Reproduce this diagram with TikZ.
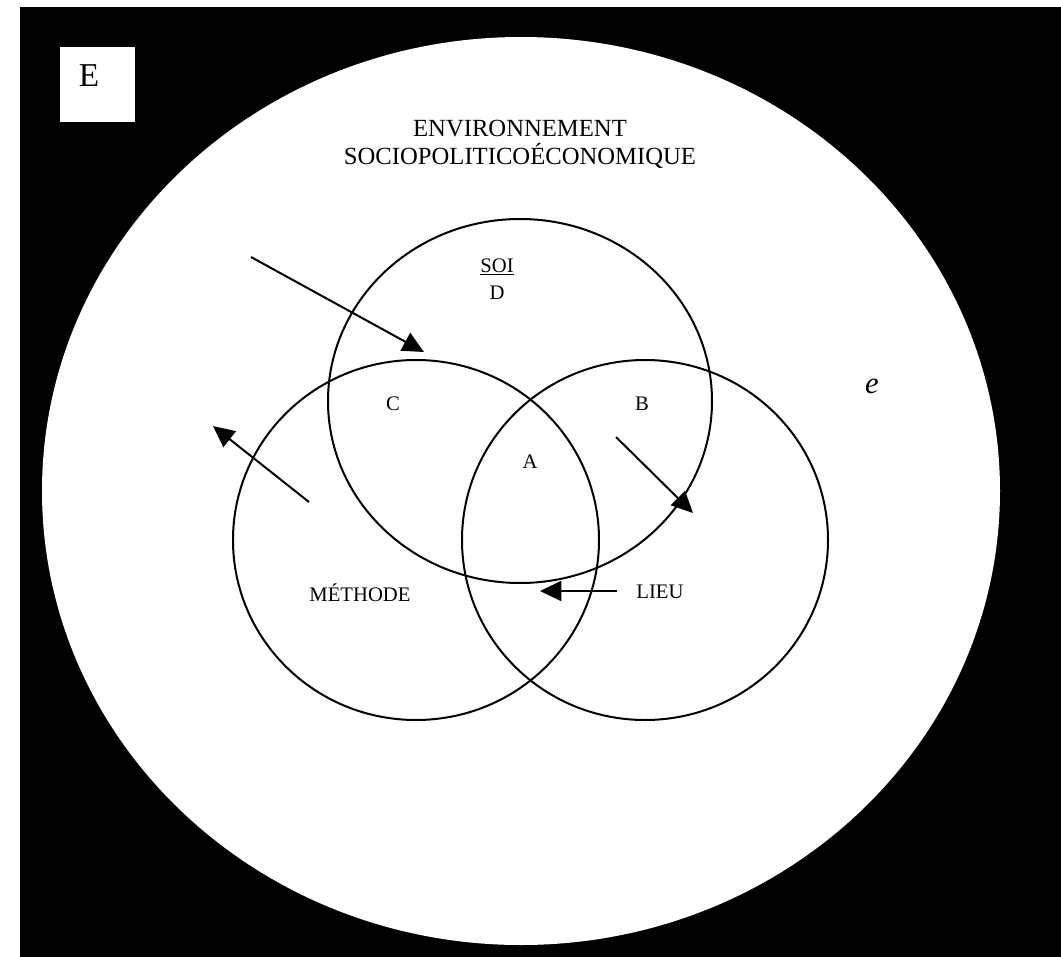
\documentclass[tikz,border=0pt]{standalone}
\usepackage{fontspec}
\setmainfont{Liberation Serif}
\usetikzlibrary{arrows.meta}
\begin{document}
\begin{tikzpicture}[x=0.75pt,y=-0.75pt,
  ring/.style={draw=black,line width=1.5pt},
  lbl/.style={font=\fontsize{15.5}{18}\selectfont,inner sep=0pt},
  big/.style={font=\fontsize{18.5}{22}\selectfont,inner sep=0pt},
  arr/.style={line width=1.5pt,-{Triangle[length=16pt,width=15pt]}}]
\useasboundingbox (0,0) rectangle (1061,957);
\fill[white] (0,0) rectangle (1061,957);
\fill[black] (20,7) rectangle (1061,957);
\fill[white] (521,491) ellipse [x radius=479, y radius=454];
\fill[white] (60,47) rectangle (135,122);
\node[inner sep=0pt,font=\fontsize{25}{30}\selectfont] (E) at (89,76) {E};
\node[big] (env1) at (520,129) {ENVIRONNEMENT};
\node[big] (env2) at (520,156) {SOCIOPOLITICOÉCONOMIQUE};
\node[inner sep=0pt,font=\fontsize{23}{28}\selectfont\itshape] (e) at (872,386) {e};
\draw[ring] (520,401) ellipse [x radius=192, y radius=182];
\draw[ring] (416,540) ellipse [x radius=183, y radius=180];
\draw[ring] (645,540) ellipse [x radius=183, y radius=180];
\node[lbl] (soit) at (497,267) {\underline{SOI}};
\node[lbl] (D) at (497,293) {D};
\node[lbl] (C) at (393,404) {C};
\node[lbl] (B) at (642,404) {B};
\node[lbl] (A) at (530,462) {A};
\node[lbl] (met) at (360,593) {MÉTHODE};
\node[lbl] (lieu) at (660,592) {LIEU};
\coordinate (a1s) at (251,257); \coordinate (a1e) at (424,352);
\coordinate (a2s) at (309,502); \coordinate (a2e) at (213,426);
\coordinate (a3s) at (616,437); \coordinate (a3e) at (693,513);
\coordinate (a4s) at (617,591); \coordinate (a4e) at (540,591);
\draw[arr] (a1s) -- (a1e);
\draw[arr] (a2s) -- (a2e);
\draw[arr] (a3s) -- (a3e);
\draw[arr] (a4s) -- (a4e);
\end{tikzpicture}
\end{document}
